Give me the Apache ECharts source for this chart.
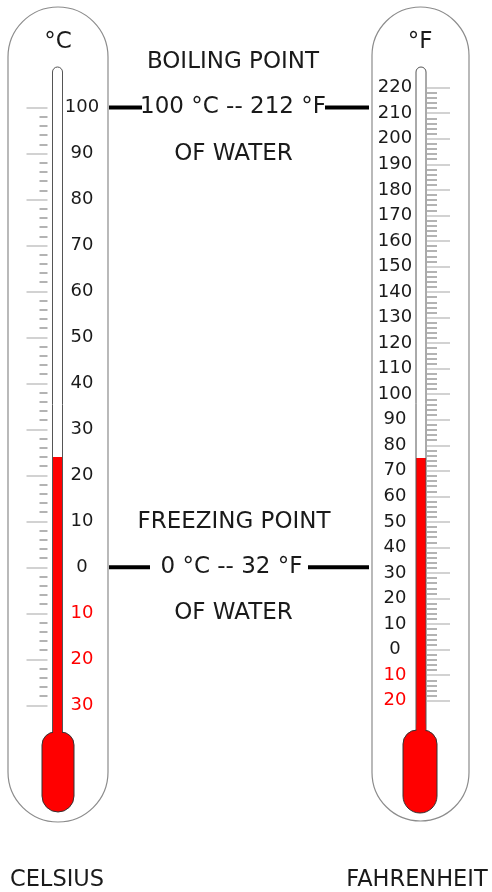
<!DOCTYPE html>
<html>
<head>
<meta charset="utf-8">
<script src="https://cdn.jsdelivr.net/npm/echarts@6/dist/echarts.min.js"></script>
<style>
html,body{margin:0;padding:0;background:#fff;}
#chart{width:492px;height:892px;}
</style>
</head>
<body>
<div id="chart"></div>
<script>
// ---- data ----
const celsiusRange = [-30, 100];
const fahrenheitRange = [-20, 220];
const majorStep = 10;
const minorSplit = 5;
const unitLabels = ['°C', '°F'];
const scaleNames = ['CELSIUS', 'FAHRENHEIT'];
const celsiusReading = [24];
const fahrenheitReading = [75];
const pointNames = ['BOILING POINT', 'FREEZING POINT'];
const pointCelsius = [100, 0];
const pointFahrenheit = [212, 32];
const pointSuffix = 'OF WATER';

// ---- style / layout ----
const FONT = 'DejaVu Sans';
const TXT = '#1a1a1a';
const RED = '#ff0000';
const H = 892;

const chart = echarts.init(document.getElementById('chart'), null, {renderer: 'canvas'});

function labelColor(v) { return v < 0 ? RED : TXT; }
function labelText(v) { return String(Math.abs(v)); }

function mercury(bottomY, width) {
  return function (params, api) {
    const p = api.coord([api.value(0), api.value(1)]);
    return {
      type: 'rect',
      shape: {x: p[0] - width / 2, y: p[1], width: width, height: bottomY - p[1]},
      style: {fill: RED}
    };
  };
}

const labelStyle = {inside: true, align: 'center', verticalAlign: 'middle', fontFamily: FONT, fontSize: 18,
  color: labelColor, formatter: labelText, hideOverlap: false, showMinLabel: true, showMaxLabel: true, overflow: 'none'};

const option = {
  animation: false,
  backgroundColor: '#fff',
  grid: [
    {left: 47.5, width: 20, top: 107.5, bottom: H - 705.3, containLabel: false, outerBoundsMode: 'none'},
    {left: 415, width: 12, top: 87.7, bottom: H - 700.7, containLabel: false, outerBoundsMode: 'none'}
  ],
  xAxis: [
    {gridIndex: 0, type: 'category', data: ['c'], show: false},
    {gridIndex: 1, type: 'category', data: ['f'], show: false}
  ],
  yAxis: [
    {
      gridIndex: 0, type: 'value', position: 'left',
      min: celsiusRange[0], max: celsiusRange[1], interval: majorStep,
      axisLine: {show: false}, splitLine: {show: false},
      axisTick: {show: true, length: 21, lineStyle: {color: '#c4c4c4', width: 1.5}},
      minorTick: {show: true, splitNumber: minorSplit, length: 8, lineStyle: {color: '#9a9a9a', width: 1.5}},
      axisLabel: Object.assign({margin: 34.5}, labelStyle)
    },
    {
      gridIndex: 1, type: 'value', position: 'right',
      min: fahrenheitRange[0], max: fahrenheitRange[1], interval: majorStep,
      axisLine: {show: false}, splitLine: {show: false},
      axisTick: {show: true, length: 23, lineStyle: {color: '#c4c4c4', width: 1.5}},
      minorTick: {show: true, splitNumber: minorSplit, length: 10, lineStyle: {color: '#9a9a9a', width: 1.5}},
      axisLabel: Object.assign({margin: 32}, labelStyle)
    }
  ],
  series: [
    {type: 'custom', name: 'Celsius', xAxisIndex: 0, yAxisIndex: 0, clip: false, silent: true, z: 2,
      data: celsiusReading.map(v => [0, v]), renderItem: mercury(736, 10)},
    {type: 'custom', name: 'Fahrenheit', xAxisIndex: 1, yAxisIndex: 1, clip: false, silent: true, z: 2,
      data: fahrenheitReading.map(v => [0, v]), renderItem: mercury(734, 10)}
  ]
};
chart.setOption(option);

// ---- decorations ----
function text(str, x, y, size, z) {
  return {type: 'text', x: x, y: y, z: z || 20, silent: true,
    style: {text: str, fill: TXT, font: size + 'px "' + FONT + '"', align: 'center', verticalAlign: 'middle'}};
}
function hline(x1, x2, y) {
  return {type: 'line', z: 15, silent: true, shape: {x1: x1, y1: y, x2: x2, y2: y}, style: {stroke: '#000', lineWidth: 4}};
}

const yBoil = chart.convertToPixel({yAxisIndex: 0}, pointCelsius[0]);
const yFreeze = chart.convertToPixel({yAxisIndex: 0}, pointCelsius[1]);

const graphics = [
  // casings
  {type: 'rect', z: 0, silent: true, shape: {x: 8, y: 7, width: 100, height: 815, r: 50},
    style: {fill: '#fff', stroke: '#8c8c8c', lineWidth: 1.2}},
  {type: 'rect', z: 0, silent: true, shape: {x: 372, y: 7, width: 97, height: 814, r: 48.5},
    style: {fill: '#fff', stroke: '#8c8c8c', lineWidth: 1.2}},
  // tube interiors
  {type: 'rect', z: 1, silent: true, shape: {x: 52.5, y: 67, width: 10, height: 662, r: [5, 5, 0, 0]}, style: {fill: '#fff'}},
  {type: 'rect', z: 1, silent: true, shape: {x: 416, y: 67, width: 10, height: 662, r: [5, 5, 0, 0]}, style: {fill: '#fff'}},
  // tube outlines
  {type: 'rect', z: 10, silent: true, shape: {x: 52.5, y: 67, width: 10, height: 670, r: [5, 5, 0, 0]},
    style: {fill: 'none', stroke: '#555', lineWidth: 1}},
  {type: 'rect', z: 10, silent: true, shape: {x: 416, y: 67, width: 10, height: 668, r: [5, 5, 0, 0]},
    style: {fill: 'none', stroke: '#555', lineWidth: 1}},
  // bulbs
  {type: 'rect', z: 11, silent: true, shape: {x: 42, y: 732, width: 32, height: 80, r: [13, 13, 16, 16]},
    style: {fill: RED, stroke: '#333', lineWidth: 1}},
  {type: 'rect', z: 11, silent: true, shape: {x: 403, y: 730, width: 34, height: 83, r: [14, 14, 17, 17]},
    style: {fill: RED, stroke: '#333', lineWidth: 1}},
  // neck patches
  {type: 'rect', z: 12, silent: true, shape: {x: 53, y: 726, width: 9, height: 10}, style: {fill: RED}},
  {type: 'rect', z: 12, silent: true, shape: {x: 416.5, y: 724, width: 9, height: 10}, style: {fill: RED}},
  // units
  text(unitLabels[0], 58, 42, 23),
  text(unitLabels[1], 420, 42, 23),
  // boiling point
  text(pointNames[0], 233, 62, 23),
  text(pointCelsius[0] + ' °C -- ' + pointFahrenheit[0] + ' °F', 233, yBoil, 23),
  text(pointSuffix, 233.5, 154, 23),
  hline(109, 142, yBoil), hline(325, 369, yBoil),
  // freezing point
  text(pointNames[1], 234, 522, 23),
  text(pointCelsius[1] + ' °C -- ' + pointFahrenheit[1] + ' °F', 231.5, yFreeze, 23),
  text(pointSuffix, 233.5, 613, 23),
  hline(109, 150, yFreeze), hline(308, 369, yFreeze),
  // scale names
  text(scaleNames[0], 57, 880, 22.5),
  text(scaleNames[1], 417, 880, 22.5)
];
chart.setOption({graphic: graphics});
</script>
</body>
</html>
